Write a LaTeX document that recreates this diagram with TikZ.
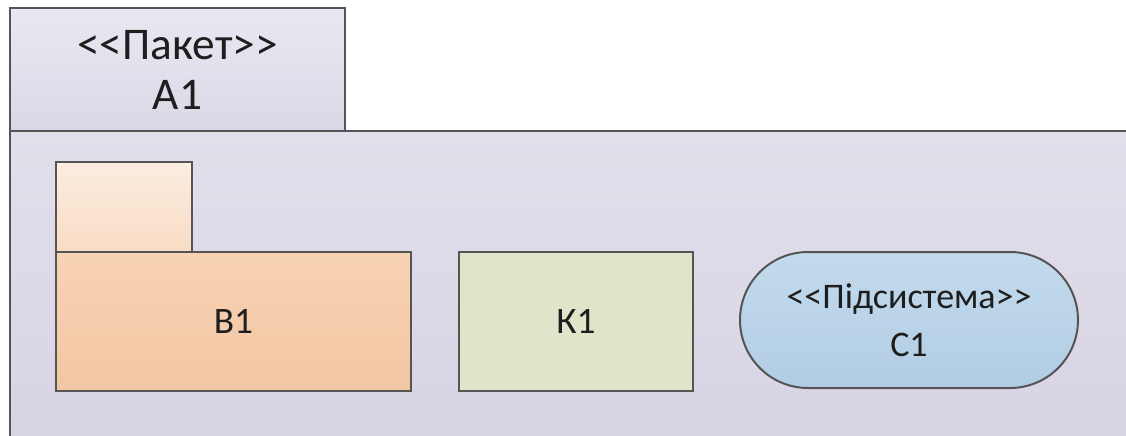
\documentclass[tikz,border=0pt]{standalone}
\usepackage{fontspec}
\setmainfont{Carlito}
\definecolor{edge}{HTML}{555555}
\definecolor{txt}{HTML}{1E1E1E}
\definecolor{pkgtop}{HTML}{EAE7F1}
\definecolor{pkgbot}{HTML}{DCD7E6}
\definecolor{bodytop}{HTML}{E2DFEB}
\definecolor{bodybot}{HTML}{D8D3E3}
\definecolor{btabtop}{HTML}{FCEDE0}
\definecolor{btabbot}{HTML}{F9DCC5}
\definecolor{bbodytop}{HTML}{F8D3B5}
\definecolor{bbodybot}{HTML}{F3C6A2}
\definecolor{kfill}{HTML}{DFE5C8}
\definecolor{ctop}{HTML}{C4DAEC}
\definecolor{cbot}{HTML}{B1CDE4}
\tikzset{
  shape box/.style={draw=edge, line width=1.5pt, rectangle, inner sep=0pt, text=txt, align=center},
}
\begin{document}
\begin{tikzpicture}[x=0.75pt,y=-0.75pt]
\useasboundingbox (0,0) rectangle (1126,435);
\fill[white] (0,0) rectangle (1126,435);
\clip (0,0) rectangle (1126,435);
% package body
\node[shape box, top color=bodytop, bottom color=bodybot, minimum width=847.5pt, minimum height=239.25pt] (body) at (575,290.5) {};
% package tab
\node[shape box, top color=pkgtop, bottom color=pkgbot, minimum width=251.25pt, minimum height=92.25pt, font=\fontsize{34}{37.5}\selectfont] (tab) at (177.5,69.5) {<{}<Пакет>{}>\\A1};
% B1 package
\node[shape box, top color=btabtop, bottom color=btabbot, minimum width=102pt, minimum height=67.5pt] (btab) at (124,207) {};
\node[shape box, top color=bbodytop, bottom color=bbodybot, minimum width=266.25pt, minimum height=104.25pt, font=\fontsize{28}{32}\selectfont] (b1) at (233.5,321.5) {B1};
% K1
\node[shape box, fill=kfill, minimum width=175.5pt, minimum height=104.25pt, font=\fontsize{28}{32}\selectfont] (k1) at (576,321.5) {К1};
% C1 subsystem
\node[shape box, top color=ctop, bottom color=cbot, rounded corners=51pt, minimum width=253.5pt, minimum height=102pt, font=\fontsize{27}{36}\selectfont] (c1) at (909,320) {<{}<Підсистема>{}>\\C1};
\end{tikzpicture}
\end{document}
